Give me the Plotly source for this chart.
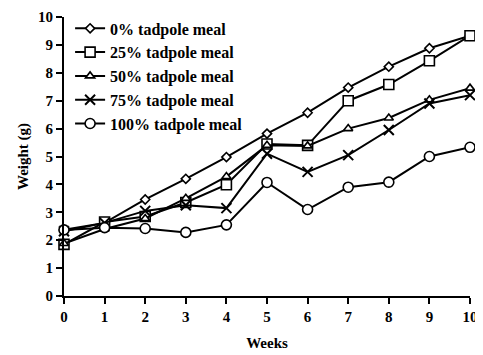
import plotly.graph_objects as go

weeks = [0, 1, 2, 3, 4, 5, 6, 7, 8, 9, 10]
meal_0 = [2.37, 2.62, 3.46, 4.2, 4.98, 5.82, 6.57, 7.47, 8.22, 8.88, 9.33]
meal_25 = [1.85, 2.65, 2.85, 3.35, 3.99, 5.45, 5.4, 7.0, 7.58, 8.43, 9.33]
meal_50 = [1.88, 2.4, 2.78, 3.5, 4.28, 5.4, 5.38, 6.0, 6.38, 7.03, 7.45]
meal_75 = [2.32, 2.62, 3.05, 3.25, 3.15, 5.1, 4.45, 5.05, 5.95, 6.9, 7.2]
meal_100 = [2.37, 2.45, 2.42, 2.28, 2.55, 4.07, 3.1, 3.9, 4.08, 5.0, 5.33]

series_names = ["0% tadpole meal", "25% tadpole meal", "50% tadpole meal",
                "75% tadpole meal", "100% tadpole meal"]
series_values = [meal_0, meal_25, meal_50, meal_75, meal_100]
symbols = ["diamond", "square", "triangle-up", "x-thin", "circle"]
sizes = [7, 10, 8, 10, 10]

fig = go.Figure()
for name, vals, sym, sz in zip(series_names, series_values, symbols, sizes):
    if sym == "x-thin":
        marker = dict(symbol=sym, size=sz, color="black",
                      line=dict(color="black", width=2))
    else:
        marker = dict(symbol=sym, size=sz, color="white",
                      line=dict(color="black", width=1.6))
    fig.add_trace(go.Scatter(x=weeks, y=vals, mode="lines+markers", name=name,
                             line=dict(color="black", width=2), marker=marker))

font = "Liberation Serif"
fig.update_layout(
    width=475, height=347,
    margin=dict(l=56, r=13, t=9, b=59, autoexpand=False),
    paper_bgcolor="white", plot_bgcolor="white",
    font=dict(family=font, color="black", size=15, weight="bold"),
    showlegend=True,
    legend=dict(x=0.015, y=1.02, xanchor="left", yanchor="top",
                bgcolor="rgba(0,0,0,0)",
                font=dict(family=font, size=16, weight="bold"),
                itemwidth=30, tracegroupgap=0),
    xaxis=dict(range=[0, 10], tickmode="array", tickvals=weeks,
               ticks="outside", ticklen=6, tickwidth=2, tickcolor="black",
               showline=True, linecolor="black", linewidth=2, showgrid=False,
               zeroline=False, automargin=False, ticklabeloverflow="allow",
               title=dict(text="Weeks", font=dict(size=15), standoff=13),
               tickfont=dict(size=15)),
    yaxis=dict(range=[0, 10], tickmode="array", tickvals=list(range(11)),
               ticks="outside", ticklen=6, tickwidth=2, tickcolor="black",
               showline=True, linecolor="black", linewidth=2, showgrid=False,
               zeroline=False, automargin=False, ticklabeloverflow="allow",
               title=dict(text="Weight (g)", font=dict(size=15), standoff=6),
               tickfont=dict(size=15)),
)
fig.update_traces(cliponaxis=False)
fig.write_html("out.html")
